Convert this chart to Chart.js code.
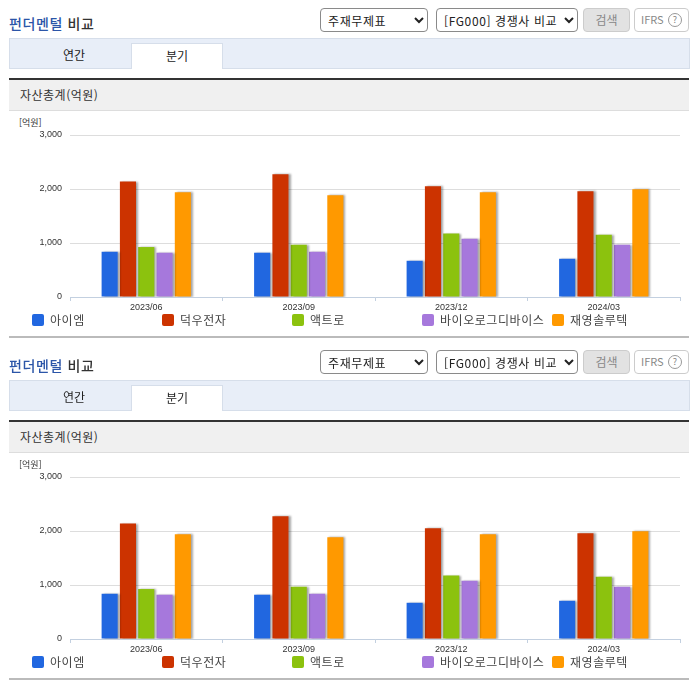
<!DOCTYPE html>
<html lang="ko">
<head>
<meta charset="utf-8">
<title>펀더멘털 비교</title>
<script src="https://cdn.jsdelivr.net/npm/chart.js@4/dist/chart.umd.min.js"></script>
<style>
  html, body { margin: 0; padding: 0; background: #fff; }
  body { width: 696px; height: 684px; position: relative; overflow: hidden;
         font-family: "Noto Sans CJK KR", sans-serif; font-size: 12px; color: #333; }
  .block { position: absolute; left: 0; width: 696px; height: 342px; }
  .block > * { position: absolute; }
  .title { left: 9px; top: 13px; font-size: 14px; line-height: 20px; font-weight: 500; color: #333; letter-spacing: 0.6px; }
  .title b { color: #2b55a8; font-weight: 500; }
  select { font-family: inherit; font-size: 12px; height: 24px; background: #fff; color: #222; letter-spacing: 0.6px;
           border: 1px solid #8a8a8a; border-radius: 4px; padding: 0 0 0 3px; top: 8px; }
  .btn { top: 8px; height: 22px; line-height: 21px; text-align: center; border-radius: 4px; font-size: 12px; }
  .search { left: 583px; width: 45px; background: #e2e2e2; border: 1px solid #ccc; color: #888; }
  .ifrs { left: 634px; width: 53px; background: #fff; border: 1px solid #ccc; color: #888; font-size: 11px; text-align: left; text-indent: 6px; }
  .ifrs em { position: absolute; left: 33px; top: 4px; width: 12px; height: 12px; line-height: 12px; border: 1px solid #999;
             border-radius: 50%; font-style: normal; font-size: 9px; text-align: center; text-indent: 0; }
  .tabs { left: 9px; top: 38px; width: 679px; height: 29px; background: #e8eef8; border: 1px solid #d6deea; }
  .tab { top: 43px; height: 25px; line-height: 23px; text-align: center; color: #222; }
  .tab.off { left: 18px; width: 112px; }
  .tab.on { left: 131px; width: 90px; height: 25px; background: #fff; border: 1px solid #d6deea; border-bottom: 0; }
  .head { left: 9px; top: 78px; width: 680px; height: 30px; line-height: 30px; background: #f0f0f0; letter-spacing: 0.5px;
          border-top: 2px solid #333; border-bottom: 1px solid #ddd; text-indent: 11px; color: #333; }
  .unit { left: 19px; top: 117px; font-size: 9px; line-height: 12px; color: #333; }
  canvas { left: 10px; top: 113px; }
  .legend { left: 0; top: 311px; width: 696px; height: 18px; }
  .legend span { position: absolute; top: 0; line-height: 18px; white-space: nowrap; color: #444; letter-spacing: 0.55px; }
  .legend i { position: absolute; top: 3px; width: 12px; height: 12px; border-radius: 2px; }
  .rule { left: 9px; top: 336px; width: 680px; height: 2px; background: #bbb; }
</style>
</head>
<body>
<script>
const categories = ['2023/06', '2023/09', '2023/12', '2024/03'];
const seriesNames = ['아이엠', '덕우전자', '액트로', '바이오로그디바이스', '재영솔루텍'];
const colors = ['#2167e0', '#cc3300', '#8cc20e', '#a678dc', '#ff9900'];
const aiem = [838, 820, 671, 708];
const dukwoo = [2137, 2273, 2050, 1957];
const actro = [925, 969, 1174, 1155];
const biolog = [820, 838, 1081, 969];
const jaeyoung = [1938, 1882, 1938, 1994];
const seriesValues = [aiem, dukwoo, actro, biolog, jaeyoung];
const yTicks = [0, 1000, 2000, 3000];
const legendX = [32, 162, 292, 422, 552];
const blockTops = [0, 342];

// grey drop shadow on the bars
const barShadow = {
    id: 'barShadow',
    beforeDatasetDraw(chart) {
        const ctx = chart.ctx;
        ctx.save();
        ctx.shadowColor = 'rgba(0, 0, 0, 0.35)';
        ctx.shadowOffsetX = 2;
        ctx.shadowOffsetY = 0;
        ctx.shadowBlur = 2;
    },
    afterDatasetDraw(chart) {
        chart.ctx.restore();
    }
};

function buildBlock(top) {
    const block = document.createElement('div');
    block.className = 'block';
    block.style.top = top + 'px';
    block.innerHTML = `
        <div class="title"><b>펀더멘털</b> 비교</div>
        <select style="left:320px;width:108px"><option>주재무제표</option></select>
        <select style="left:436px;width:142px"><option>[FG000] 경쟁사 비교</option></select>
        <div class="btn search">검색</div>
        <div class="btn ifrs">IFRS<em>?</em></div>
        <div class="tabs"></div>
        <div class="tab off">연간</div>
        <div class="tab on">분기</div>
        <div class="head">자산총계(억원)</div>
        <div class="unit">[억원]</div>
        <canvas width="680" height="205"></canvas>
        <div class="legend"></div>
        <div class="rule"></div>`;
    document.body.appendChild(block);

    const legend = block.querySelector('.legend');
    seriesNames.forEach((name, i) => {
        const box = document.createElement('i');
        box.style.left = legendX[i] + 'px';
        box.style.background = colors[i];
        const label = document.createElement('span');
        label.style.left = (legendX[i] + 18) + 'px';
        label.textContent = name;
        legend.append(box, label);
    });

    new Chart(block.querySelector('canvas'), {
        type: 'bar',
        data: {
            labels: categories,
            datasets: seriesNames.map((name, i) => ({
                label: name,
                data: seriesValues[i],
                backgroundColor: colors[i],
                categoryPercentage: 0.6,
                barPercentage: 0.88
            }))
        },
        plugins: [barShadow],
        options: {
            responsive: false,
            animation: false,
            devicePixelRatio: 1,
            layout: { padding: { top: 22, right: 10, bottom: 0, left: 0 } },
            plugins: { legend: { display: false }, tooltip: { enabled: false } },
            scales: {
                x: {
                    afterFit: axis => { axis.height = 21; },
                    grid: { drawOnChartArea: false, color: '#c3d0e0', tickLength: 4, offset: true },
                    border: { color: '#c3d0e0' },
                    ticks: { color: '#333', font: { size: 9, family: 'Liberation Sans' }, padding: 1, maxRotation: 0 }
                },
                y: {
                    min: 0,
                    max: 3000,
                    afterFit: axis => { axis.width = 60; },
                    afterBuildTicks: axis => { axis.ticks = yTicks.map(value => ({ value })); },
                    grid: { color: '#ddd', tickLength: 0 },
                    border: { display: false },
                    ticks: {
                        color: '#333',
                        padding: 8,
                        font: { size: 9, family: 'Liberation Sans' },
                        callback: value => value.toLocaleString('en-US')
                    }
                }
            }
        }
    });
}

blockTops.forEach(buildBlock);
</script>
</body>
</html>
